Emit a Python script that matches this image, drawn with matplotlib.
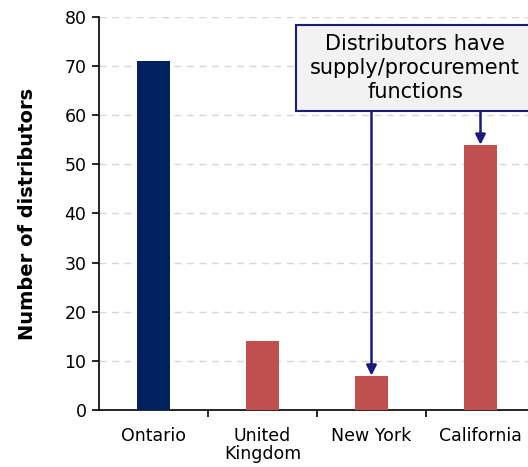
import matplotlib
matplotlib.use('Agg')
import matplotlib.pyplot as plt
from matplotlib.patches import Rectangle

regions = ['Ontario', 'United\nKingdom', 'New York', 'California']
distributors = [71, 14, 7, 54]
bar_colors = ['#002060', '#C0504D', '#C0504D', '#C0504D']
note = 'Distributors have\nsupply/procurement\nfunctions'
note_targets = [2, 3]

fig = plt.figure(figsize=(5.28, 4.67), dpi=100)
ax = fig.add_axes([99 / 528, 1 - 410 / 467, 436 / 528, 393 / 467])

x = range(len(regions))
ax.bar(x, distributors, width=0.31, color=bar_colors, zorder=3)

ax.set_xlim(-0.5, len(regions) - 0.5)
ax.set_ylim(0, 80)
ax.set_yticks(range(0, 81, 10))
ax.set_xticks(list(x))
ax.set_xticklabels(regions, fontsize=12.5, linespacing=1.0)
ax.set_xticks([i + 0.5 for i in x], minor=True)
ax.tick_params(axis='x', which='major', length=0, pad=12)
ax.tick_params(axis='x', which='minor', length=5, width=1.2, direction='out')
ax.tick_params(axis='y', labelsize=12.5, length=5, width=1.2, direction='out', pad=4)
ax.yaxis.grid(True, linestyle=(0, (5, 4)), color='#d6d6d6', linewidth=1, zorder=0)
ax.set_axisbelow(True)
for s in ['top', 'right']:
    ax.spines[s].set_visible(False)
for s in ['left', 'bottom']:
    ax.spines[s].set_linewidth(1.2)
ax.set_ylabel('Number of distributors', fontsize=14, fontweight='bold', labelpad=20)

# callout box
box_left, box_right = 1.307, 3.52
box_bottom, box_top = 60.9, 78.4
ax.add_patch(Rectangle((box_left, box_bottom), box_right - box_left, box_top - box_bottom,
                       facecolor='#F2F2F2', edgecolor='#1a1a7a', linewidth=1.5,
                       zorder=5, clip_on=False))
ax.text(2.40, (box_bottom + box_top) / 2, note, ha='center', va='center',
        fontsize=15, linespacing=1.27, zorder=6)
for t in note_targets:
    ax.annotate('', xy=(t, distributors[t]), xytext=(t, box_bottom),
                arrowprops=dict(arrowstyle='-|>', color='#1a1a7a', lw=1.8,
                                mutation_scale=15, shrinkA=0, shrinkB=0),
                zorder=4)

fig.savefig('out.png', dpi=100)
